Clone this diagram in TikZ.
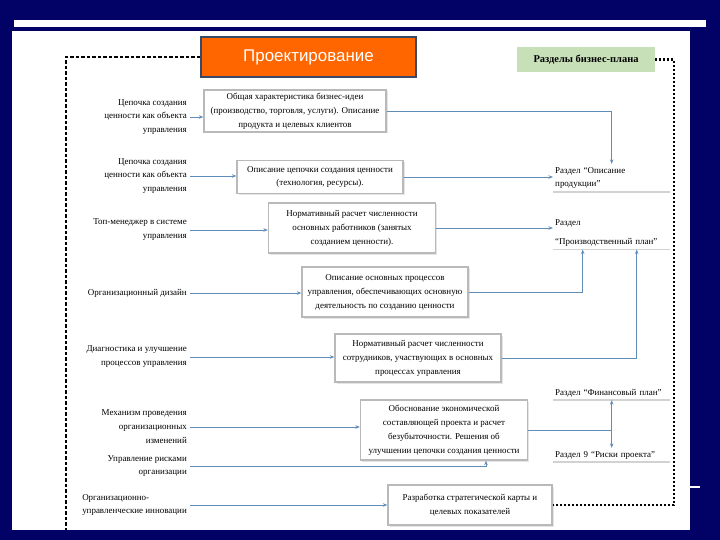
\documentclass[tikz,border=0pt]{standalone}
\usepackage{fontspec}
\setmainfont{Liberation Serif}
\setsansfont{Liberation Sans}
\usetikzlibrary{arrows.meta,shadows}
\definecolor{navy}{RGB}{2,2,102}
\definecolor{orng}{RGB}{255,102,0}
\definecolor{prline}{RGB}{55,75,105}
\definecolor{lnk}{RGB}{95,140,185}
\definecolor{sage}{RGB}{200,224,184}

\begin{document}
\begin{tikzpicture}[x=1bp,y=-1bp,
  every node/.style={font=\fontsize{9}{14}\selectfont},
  lbl/.style={anchor=east,align=right,inner xsep=3bp,inner ysep=0pt},
  mbox/.style={draw=gray!55,line width=1.3bp,fill=white,align=center,inner sep=2bp,
    drop shadow={shadow xshift=1.5bp,shadow yshift=-1.5bp,fill=gray!40}},
  sect/.style={anchor=west,align=left,text width=113bp,inner xsep=2bp,inner ysep=3bp},
  uline/.style={draw=gray!35,line width=1.5bp},
  conn/.style={draw=lnk,line width=0.8bp,-{Stealth[length=4.5bp,width=3.5bp]}},
  frameL/.style={line width=2.2bp,dash pattern=on 3.5bp off 2bp},
  frameR/.style={line width=2.2bp,dash pattern=on 2bp off 2bp}]

% slide background
\fill[navy] (0,0) rectangle (720,540);
\fill[white] (14,20) rectangle (706,27);
\fill[white] (12,31) rectangle (690,530);
\draw[white,line width=1.5bp] (690,487) -- (700,487);

% headers
\node[draw=prline,line width=1.5bp,fill=orng,text=white,minimum width=215bp,minimum height=40bp,
  font=\sffamily\fontsize{17}{20}\selectfont] (pr) at (308.5,57) {Проектирование};
\node[fill=sage,minimum width=138bp,minimum height=25bp,
  font=\bfseries\fontsize{10.5}{12}\selectfont] (rz) at (586,59.5) {Разделы бизнес-плана};

% left column
\node[lbl] (l1) at (190,117) {Цепочка создания\\ценности как объекта\\управления};
\node[lbl] (l2) at (190,176) {Цепочка создания\\ценности как объекта\\управления};
\node[lbl] (l3) at (190,230) {Топ-менеджер в системе\\управления};
\node[lbl] (l4) at (190,293) {Организационный дизайн};
\node[lbl] (l5) at (190,357) {Диагностика и улучшение\\процессов управления};
\node[lbl] (l6) at (190,427) {Механизм проведения\\организационных\\изменений};
\node[lbl] (l7) at (190,466) {Управление рисками\\организации};
\node[lbl,align=left] (l8) at (190,505) {Организационно-\\управленческие инновации};

% middle column
\node[mbox,minimum width=182bp,minimum height=42bp] (a) at (295,111)
  {Общая характеристика бизнес-идеи\\(производство, торговля, услуги). Описание\\продукта и целевых клиентов};
\node[mbox,minimum width=166bp,minimum height=33bp] (b) at (320,177)
  {Описание цепочки создания ценности\\(технология, ресурсы).};
\node[mbox,minimum width=167bp,minimum height=50bp] (c) at (352,228)
  {Нормативный расчет численности\\основных работников (занятых\\созданием ценности).};
\node[mbox,minimum width=166bp,minimum height=50bp] (d) at (385,292)
  {Описание основных процессов\\управления, обеспечивающих основную\\деятельность по созданию ценности};
\node[mbox,minimum width=166bp,minimum height=48bp] (e) at (418,358)
  {Нормативный расчет численности\\сотрудников, участвующих в основных\\процессах управления};
\node[mbox,minimum width=167bp,minimum height=60bp] (f) at (444,430)
  {Обоснование экономической\\составляющей проекта и расчет\\безубыточности. Решения об\\улучшении цепочки создания ценности};
\node[mbox,minimum width=164bp,minimum height=40bp] (g) at (470,505)
  {Разработка стратегической карты и\\целевых показателей};

% business plan sections
\node[sect] (r1) at (553,178) {Раздел “Описание\\продукции”};
\node[sect] (r2) at (553,233) {Раздел\\[5bp]“Производственный план”};
\node[sect] (r3) at (553,393) {Раздел “Финансовый план”};
\node[sect] (r4) at (553,455) {Раздел 9 “Риски проекта”};
\foreach \n in {r1,r2,r3,r4}
  \draw[uline] (\n.south west) -- (\n.south east);

% links
\foreach \s/\t in {l1/a,l2/b,l3/c,l4/d,l5/e,l6/f,l8/g}
  \draw[conn] (\s.east) -- (\s.east -| \t.west);
\draw[conn] (a.east) -| (r1.north);
\draw[conn] (b.east) -- (b.east -| r1.west);
\draw[conn] (c.east) -- (c.east -| r2.west);
\draw[conn] (d.east) -| ([xshift=-29bp]r2.south);
\draw[conn] (e.east) -| ([xshift=25bp]r2.south);
\draw[conn] (l7.east) -| ([xshift=42bp]f.south);
\draw[lnk,line width=0.8bp] (f.east) -- (f.east -| r3.south);
\draw[conn,{Stealth[length=4.5bp,width=3.5bp]}-{Stealth[length=4.5bp,width=3.5bp]}] (r3.south) -- (r4.north);

% dashed frame
\coordinate (fl) at (66,530);
\coordinate (fr) at (674,505);
\draw[frameL] (pr.west) -| (fl);
\draw[frameR] (rz.east) -| (fr) -- (g.east);
\end{tikzpicture}
\end{document}
